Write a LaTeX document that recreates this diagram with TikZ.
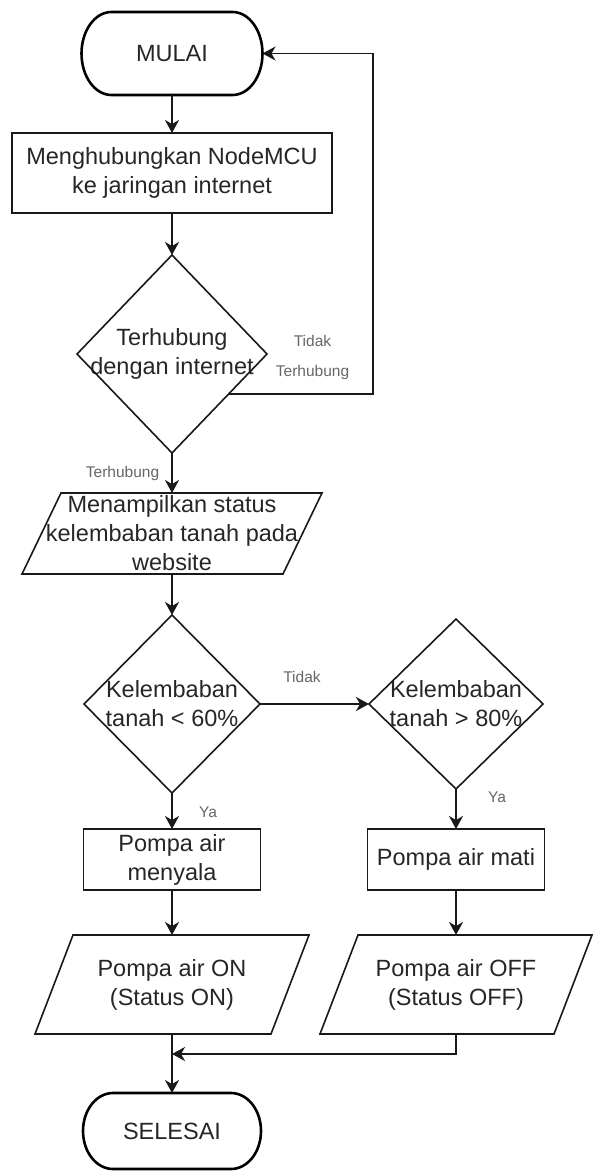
\documentclass[tikz,border=0pt]{standalone}
\usepackage{fontspec}
\setmainfont{Liberation Sans}
\usetikzlibrary{arrows.meta,calc}

% terminal (start/end) outline with elliptical ends: #1 node, #2 half height
\newcommand\drawterminal[2]{%
  \draw[termline] ([xshift=30pt]#1.north west) -- ([xshift=-30pt]#1.north east)
    arc[start angle=90,end angle=-90,x radius=30pt,y radius=#2]
    -- ([xshift=30pt]#1.south west)
    arc[start angle=270,end angle=90,x radius=30pt,y radius=#2] -- cycle;}
% input/output parallelogram around a node: #1 node, #2 slant
\newcommand\drawio[2]{%
  \draw[boxshape] ([xshift=#2]#1.north west) -- (#1.north east)
    -- ([xshift=-#2]#1.south east) -- (#1.south west) -- cycle;}
% decision diamond through the node's four side anchors
\newcommand\drawdecision[1]{%
  \draw[boxshape] (#1.north) -- (#1.east) -- (#1.south) -- (#1.west) -- cycle;}

\begin{document}
\begin{tikzpicture}[x=1pt,y=-1pt,
  every node/.style={inner sep=0pt, outer sep=0pt, align=center, text=black!85,
    font=\fontsize{23.5}{29}\selectfont},
  boxshape/.style={draw=black!90, line width=1.6pt},
  termline/.style={draw=black, line width=2.6pt},
  edge/.style={draw=black!90, line width=1.8pt,
    -{Stealth[length=13pt,width=14pt,inset=4pt]}},
  lbl/.style={font=\fontsize{15.5}{30}\selectfont, text=black!60},
]
\useasboundingbox (0,0) rectangle (593,1172);

% process steps
\node[minimum width=181pt, minimum height=83pt] (start) at (172,53.5) {MULAI};
\node[boxshape, minimum width=320pt, minimum height=80pt] (connect) at (172,173)
  {Menghubungkan NodeMCU\\ke jaringan internet};
\node[minimum width=190pt, minimum height=198pt] (online) at (172,354)
  {Terhubung\\dengan internet};
\node[minimum width=300pt, minimum height=81pt] (show) at (172,533.5)
  {Menampilkan status\\kelembaban tanah pada\\website};
\node[minimum width=176pt, minimum height=178pt] (low) at (172,704)
  {Kelembaban\\tanah < 60\%};
\node[minimum width=174pt, minimum height=170pt] (high) at (456,704)
  {Kelembaban\\tanah > 80\%};
\node[boxshape, minimum width=177pt, minimum height=61pt] (pumpon) at (172,859.5)
  {Pompa air\\menyala};
\node[boxshape, minimum width=177pt, minimum height=61pt] (pumpoff) at (456,859.5)
  {Pompa air mati};
\node[minimum width=274pt, minimum height=99pt] (stateon) at (172,984.5)
  {Pompa air ON\\(Status ON)};
\node[minimum width=272pt, minimum height=99pt] (stateoff) at (456,984.5)
  {Pompa air OFF\\(Status OFF)};
\node[minimum width=178pt, minimum height=76pt] (finish) at (172,1131) {SELESAI};

% outlines
\drawterminal{start}{41.5pt}
\drawterminal{finish}{38pt}
\drawdecision{online}
\drawdecision{low}
\drawdecision{high}
\drawio{show}{39pt}
\drawio{stateon}{38pt}
\drawio{stateoff}{38pt}

% connectors
\draw[edge] (start.south) -- (connect.north);
\draw[edge] (connect.south) -- (online.north);
\draw[edge] (online.south) -- (show.north);
\draw[edge] (show.south) -- (low.north);
\draw[edge] (low.east) -- (high.west);
\draw[edge] (low.south) -- (pumpon.north);
\draw[edge] (high.south) -- (pumpoff.north);
\draw[edge] (pumpon.south) -- (stateon.north);
\draw[edge] (pumpoff.south) -- (stateoff.north);
\draw[edge] (stateon.south) -- (finish.north);
\coordinate (join) at (172,1054);
\draw[edge] (stateoff.south) |- (join);

% retry loop back to the start
\coordinate (exitpt) at ($(online.east)!0.4!(online.south)$);
\coordinate (rail) at (373,53.5);
\draw[edge] (exitpt) -| (rail) -- (start.east);

% branch labels
\node[lbl] (notconn) at (312.5,357) {Tidak\\Terhubung};
\node[lbl] (conn) at (122.5,473) {Terhubung};
\node[lbl] (no) at (302,677) {Tidak};
\node[lbl] (yes1) at (208,812) {Ya};
\node[lbl] (yes2) at (497,797) {Ya};
\end{tikzpicture}
\end{document}
